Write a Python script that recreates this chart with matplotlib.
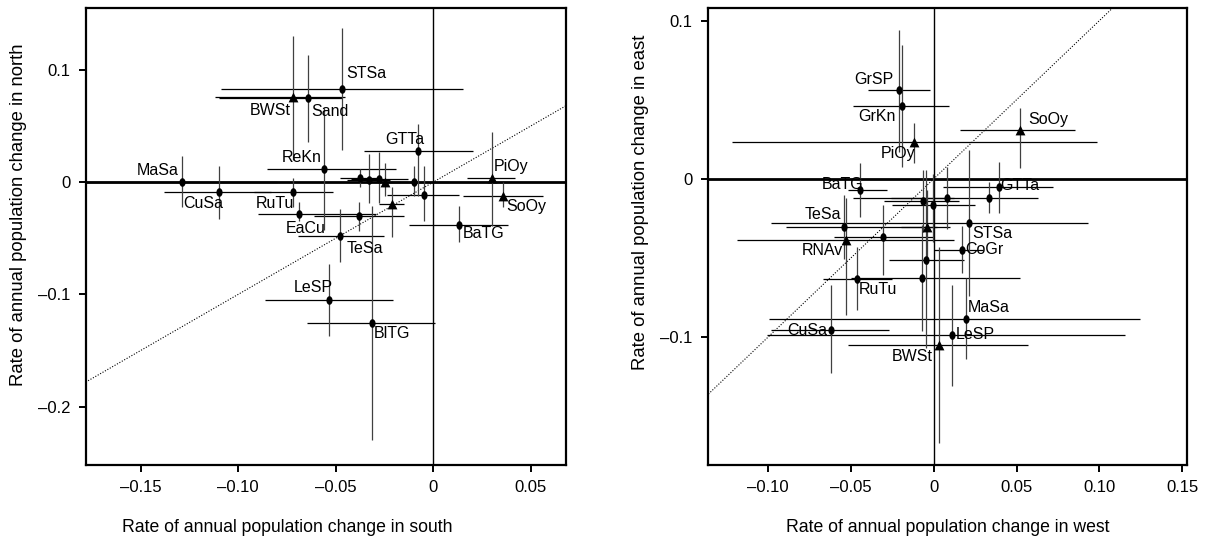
import matplotlib
matplotlib.use("Agg")
import matplotlib.pyplot as plt
import numpy as np
from matplotlib.path import Path

plt.rcParams["font.family"] = ["Liberation Sans", "DejaVu Sans"]

# ---- south (x) vs north (y) ----
sn_names = ["STSa", "BWSt", "Sand", "GTTa", "ReKn", "MaSa", "CuSa", "RuTu",
            "EaCu", "TeSa", "LeSP", "BlTG", "PiOy", "SoOy", "BaTG",
            "", "", "", "", "", "", "", ""]
sn_x = [-0.0469, -0.0720, -0.0643, -0.0077, -0.0561, -0.1290, -0.1100, -0.0720,
        -0.0689, -0.0480, -0.0536, -0.0316, 0.0301, 0.0357, 0.0133,
        -0.0378, -0.0332, -0.0276, -0.0245, -0.0097, -0.0046, -0.0214, -0.0383]
sn_y = [0.0832, 0.0760, 0.0752, 0.0274, 0.0115, 0.0000, -0.0088, -0.0088,
        -0.0283, -0.0478, -0.1050, -0.1257, 0.0035, -0.0124, -0.0380,
        0.0035, 0.0018, 0.0027, 0.0000, 0.0000, -0.0115, -0.0195, -0.0300]
sn_x_lo = [-0.1090, -0.1120, -0.1100, -0.0357, -0.0850, -0.1780, -0.1380, -0.0920,
           -0.0898, -0.0694, -0.0862, -0.0648, 0.0173, 0.0153, -0.0122,
           -0.0480, -0.0440, -0.0420, -0.0320, -0.0280, -0.0235, -0.0280, -0.0610]
sn_x_hi = [0.0153, -0.0450, -0.0470, 0.0204, -0.0190, -0.0800, -0.0830, -0.0515,
           -0.0296, -0.0255, -0.0209, 0.0010, 0.0418, 0.0561, 0.0383,
           -0.0280, -0.0220, -0.0130, -0.0170, 0.0080, 0.0130, -0.0150, -0.0150]
sn_y_lo = [0.0290, 0.0200, 0.0360, -0.0124, -0.0430, -0.0220, -0.0330, -0.0220,
           -0.0345, -0.0708, -0.1370, -0.2300, -0.0390, -0.0220, -0.0531,
           -0.0040, -0.0190, -0.0190, -0.0120, -0.0120, -0.0350, -0.0490, -0.0440]
sn_y_hi = [0.1370, 0.1300, 0.1130, 0.0513, 0.0660, 0.0230, 0.0140, 0.0040,
           -0.0177, -0.0239, -0.0726, -0.0212, 0.0442, 0.0000, -0.0212,
           0.0120, 0.0250, 0.0270, 0.0170, 0.0140, 0.0140, -0.0040, -0.0180]
sn_shape = ["o", "^", "o", "o", "o", "o", "o", "o",
            "o", "o", "o", "o", "^", "^", "o",
            "o", "o", "o", "^", "o", "o", "^", "o"]

# ---- west (x) vs east (y) ----
we_names = ["GrSP", "GrKn", "PiOy", "SoOy", "BaTG", "TeSa", "RNAv", "",
            "RuTu", "CuSa", "GTTa", "", "", "", "", "", "",
            "STSa", "", "CoGr", "MaSa", "LeSP", "BWSt"]
we_x = [-0.0211, -0.0193, -0.0120, 0.0524, -0.0446, -0.0542, -0.0530, -0.0307,
        -0.0464, -0.0620, 0.0392, 0.0331, 0.0078, -0.0066, -0.0048, -0.0072, -0.0006,
        0.0211, -0.0042, 0.0169, 0.0193, 0.0108, 0.0030]
we_y = [0.0563, 0.0462, 0.0234, 0.0310, -0.0070, -0.0304, -0.0386, -0.0367,
        -0.0633, -0.0956, -0.0050, -0.0120, -0.0120, -0.0139, -0.0513, -0.0627, -0.0165,
        -0.0278, -0.0304, -0.0450, -0.0886, -0.0987, -0.1050]
we_x_lo = [-0.0398, -0.0488, -0.1220, 0.0157, -0.0520, -0.0892, -0.1187, -0.0600,
           -0.0669, -0.0982, 0.0054, -0.0488, -0.0260, -0.0300, -0.0270, -0.0500, -0.0250,
           -0.0980, -0.0200, 0.0000, -0.0994, -0.1010, -0.0518]
we_x_hi = [-0.0024, 0.0090, 0.0988, 0.0855, -0.0283, 0.0020, 0.0120, 0.0000,
           -0.0250, -0.0270, 0.0723, 0.0630, 0.0120, 0.0150, 0.0180, 0.0520, 0.0250,
           0.0934, 0.0100, 0.0300, 0.1247, 0.1157, 0.0572]
we_y_lo = [0.0170, 0.0076, 0.0100, 0.0070, -0.0240, -0.0510, -0.0860, -0.0608,
           -0.0830, -0.1230, -0.0215, -0.0215, -0.0320, -0.0335, -0.1070, -0.0960, -0.0400,
           -0.0740, -0.0540, -0.0595, -0.1140, -0.1310, -0.1670]
we_y_hi = [0.0943, 0.0848, 0.0354, 0.0450, 0.0100, -0.0101, -0.0120, -0.0165,
           -0.0430, -0.0670, 0.0108, -0.0020, 0.0076, 0.0057, 0.0057, -0.0290, 0.0030,
           0.0180, -0.0070, -0.0300, -0.0627, -0.0670, -0.0430]
we_shape = ["o", "o", "^", "^", "o", "o", "^", "o",
            "o", "o", "o", "o", "o", "o", "o", "o", "o",
            "o", "^", "o", "o", "o", "^"]

# label placement (offset in pixels, alignment)
sn_label_pos = {
    "STSa": (4, 8, "left", "bottom"), "BWSt": (-2, -6, "right", "top"),
    "Sand": (3, -6, "left", "top"), "GTTa": (6, 4, "right", "bottom"),
    "ReKn": (-2, 4, "right", "bottom"), "MaSa": (-3, 4, "right", "bottom"),
    "CuSa": (-35, -4, "left", "top"), "RuTu": (1, -4, "right", "top"),
    "EaCu": (27, -7, "right", "top"), "TeSa": (7, -5, "left", "top"),
    "LeSP": (4, 5, "right", "bottom"), "BlTG": (2, -3, "left", "top"),
    "PiOy": (2, 4, "left", "bottom"), "SoOy": (3, -3, "left", "top"),
    "BaTG": (4, -1, "left", "top"),
}
we_label_pos = {
    "GrSP": (-5, 3, "right", "bottom"), "GrKn": (-6, -3, "right", "top"),
    "PiOy": (2, -4, "right", "top"), "SoOy": (8, 3, "left", "bottom"),
    "BaTG": (4, 5, "right", "center"), "TeSa": (-3, 5, "right", "bottom"),
    "RNAv": (-3, -3, "right", "top"), "RuTu": (2, -3, "left", "top"),
    "CuSa": (-4, 0, "right", "center"), "GTTa": (2, 1, "left", "center"),
    "STSa": (4, -3, "left", "top"), "CoGr": (4, 0, "left", "center"),
    "MaSa": (2, 4, "left", "bottom"), "LeSP": (4, 0, "left", "center"),
    "BWSt": (-6, -4, "right", "top"),
}

# tall ellipse used for the round markers
theta = np.linspace(0, 2 * np.pi, 40)
ELLIPSE = Path(np.column_stack([0.72 * np.cos(theta), np.sin(theta)]), closed=True)


def draw_panel(ax, names, x, y, x_lo, x_hi, y_lo, y_hi, shape, label_pos,
               xlim, ylim, xticks, xticklabels, yticks, yticklabels, xlabel, ylabel,
               xlabel_at, ylabel_at):
    ax.set_xlim(*xlim)
    ax.set_ylim(*ylim)

    # 1:1 reference line and the zero axes
    ref = np.array([min(xlim[0], ylim[0]), max(xlim[1], ylim[1])])
    ax.plot(ref, ref, ls=(0, (1, 1.5)), color="black", lw=0.8, zorder=1)
    ax.axhline(0, color="black", lw=2.0, zorder=1)
    ax.axvline(0, color="black", lw=1.0, zorder=1)

    ax.hlines(y, x_lo, x_hi, color="black", lw=0.9, zorder=2)
    ax.vlines(x, y_lo, y_hi, color="0.25", lw=0.9, zorder=2)

    for name, xi, yi, s in zip(names, x, y, shape):
        if s == "o":
            ax.scatter(xi, yi, marker=ELLIPSE, s=38, color="black", zorder=3,
                       linewidths=0)
        else:
            ax.scatter(xi, yi, marker="^", s=50, color="black", zorder=3,
                       linewidths=0)
        if name:
            dx, dy, ha, va = label_pos[name]
            ax.annotate(name, (xi, yi), xytext=(dx, dy), textcoords="offset pixels",
                        ha=ha, va=va, fontsize=11.5, zorder=4)

    ax.set_xticks(xticks)
    ax.set_xticklabels(xticklabels)
    ax.set_yticks(yticks)
    ax.set_yticklabels(yticklabels)
    ax.tick_params(direction="out", length=5, width=1.4, labelsize=12, pad=6)
    for sp in ax.spines.values():
        sp.set_linewidth(1.6)
    ax.set_xlabel(xlabel, fontsize=12.7)
    ax.set_ylabel(ylabel, fontsize=13.3)
    ax.xaxis.set_label_coords(xlabel_at, -0.118)
    ax.yaxis.set_label_coords(ylabel_at[0], ylabel_at[1])


fig = plt.figure(figsize=(12.06, 5.37), dpi=100)
ax1 = fig.add_axes([0.0713, 0.134, 0.398, 0.851])
ax2 = fig.add_axes([0.587, 0.134, 0.397, 0.851])

draw_panel(ax1, sn_names, sn_x, sn_y, sn_x_lo, sn_x_hi, sn_y_lo, sn_y_hi, sn_shape,
           sn_label_pos, (-0.178, 0.068), (-0.252, 0.155),
           [-0.15, -0.10, -0.05, 0, 0.05], ["–0.15", "–0.10", "–0.05", "0", "0.05"],
           [-0.2, -0.1, 0, 0.1], ["–0.2", "–0.1", "0", "0.1"],
           "Rate of annual population change in south",
           "Rate of annual population change in north",
           0.42, (-0.123, 0.547))

draw_panel(ax2, we_names, we_x, we_y, we_x_lo, we_x_hi, we_y_lo, we_y_hi, we_shape,
           we_label_pos, (-0.1364, 0.1528), (-0.181, 0.108),
           [-0.10, -0.05, 0, 0.05, 0.10, 0.15],
           ["–0.10", "–0.05", "0", "0.05", "0.10", "0.15"],
           [-0.1, 0, 0.1], ["–0.1", "0", "0.1"],
           "Rate of annual population change in west",
           "Rate of annual population change in east",
           0.5, (-0.123, 0.575))

fig.savefig("out.png", dpi=100)
